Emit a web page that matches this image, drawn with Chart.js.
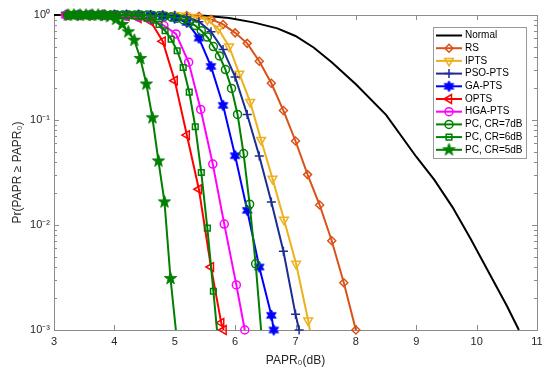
<!DOCTYPE html>
<html>
<head>
<meta charset="utf-8">
<script src="https://cdn.jsdelivr.net/npm/chart.js@4.4.1/dist/chart.umd.min.js"></script>
<style>
  html, body { margin: 0; padding: 0; background: #fff; }
  canvas { display: block; }
</style>
</head>
<body>
<canvas id="chart" width="550" height="371"></canvas>
<script>
// axis ticks
const xTicks = [3, 4, 5, 6, 7, 8, 9, 10, 11];
const yTickVals = [0.001, 0.01, 0.1, 1];
const yTickText = ["10\u207B\u00B3", "10\u207B\u00B2", "10\u207B\u00B9", "10\u2070"];

// series names
const names = ["Normal", "RS", "IPTS", "PSO-PTS", "GA-PTS", "OPTS", "HGA-PTS",
  "PC, CR=7dB", "PC, CR=6dB", "PC, CR=5dB"];

// Normal (no markers)
const normalX = [3, 4, 5, 5.5, 5.9, 6.3, 6.7, 7.0, 7.3, 7.6, 8.0, 8.5, 9.0, 9.3, 9.6, 9.9, 10.2, 10.5, 10.7];
const normalY = [1, 1, 0.998, 0.986, 0.938, 0.851, 0.746, 0.631, 0.49, 0.355, 0.219, 0.112, 0.0447, 0.0269, 0.0148, 0.00741, 0.00355, 0.0017, 0.001];

// RS
const rsX = [3.2, 3.4, 3.6, 3.8, 4.0, 4.2, 4.4, 4.6, 4.8, 5.0, 5.2, 5.4, 5.6, 5.8, 6.0, 6.2, 6.4, 6.6, 6.8, 7.0, 7.2, 7.4, 7.6, 7.8, 8.0];
const rsY = [1, 1, 1, 1, 1, 1, 1, 1, 1, 0.995, 0.989, 0.973, 0.912, 0.813, 0.676, 0.537, 0.363, 0.224, 0.123, 0.0631, 0.0302, 0.0155, 0.00708, 0.00282, 0.001];

// IPTS
const iptsX = [3.2, 3.4, 3.6, 3.8, 4.0, 4.2, 4.4, 4.6, 4.8, 5.0, 5.18, 5.36, 5.54, 5.72, 5.9, 6.07, 6.25, 6.43, 6.62, 6.81, 7.01, 7.21, 7.27];
const iptsY = [1, 1, 1, 1, 1, 1, 1, 1, 0.999, 0.996, 0.982, 0.959, 0.902, 0.741, 0.501, 0.275, 0.148, 0.0646, 0.0275, 0.0112, 0.00427, 0.00123, 0.00079];

// PSO-PTS
const psoX = [3.2, 3.4, 3.6, 3.8, 4.0, 4.2, 4.4, 4.6, 4.8, 5.0, 5.2, 5.4, 5.6, 5.8, 6.0, 6.2, 6.4, 6.6, 6.8, 7.0, 7.06];
const psoY = [1, 1, 1, 1, 1, 1, 1, 1, 0.995, 0.986, 0.955, 0.863, 0.692, 0.468, 0.257, 0.113, 0.0454, 0.0166, 0.00562, 0.00141, 0.001];

// GA-PTS
const gaX = [3.2, 3.4, 3.6, 3.8, 4.0, 4.2, 4.4, 4.6, 4.8, 5.0, 5.2, 5.4, 5.6, 5.8, 6.0, 6.2, 6.4, 6.6, 6.64];
const gaY = [1, 1, 1, 1, 1, 1, 1, 0.993, 0.977, 0.933, 0.851, 0.603, 0.324, 0.138, 0.0457, 0.0138, 0.00398, 0.00138, 0.001];

// OPTS
const optsX = [3.2, 3.4, 3.6, 3.8, 4.0, 4.2, 4.4, 4.6, 4.8, 5.0, 5.2, 5.4, 5.6, 5.77, 5.81];
const optsY = [1, 1, 1, 1, 0.993, 0.977, 0.933, 0.871, 0.562, 0.237, 0.0719, 0.0219, 0.00398, 0.00117, 0.001];

// HGA-PTS
const hgaX = [3.2, 3.4, 3.6, 3.8, 4.0, 4.2, 4.4, 4.6, 4.82, 5.02, 5.23, 5.43, 5.63, 5.82, 6.02, 6.16];
const hgaY = [1, 1, 1, 1, 0.989, 0.977, 0.955, 0.902, 0.794, 0.661, 0.355, 0.126, 0.038, 0.0102, 0.00269, 0.001];

// PC, CR=7dB
const pc7X = [3.24, 3.34, 3.44, 3.54, 3.64, 3.74, 3.84, 3.94, 4.04, 4.14, 4.24, 4.34, 4.44, 4.54, 4.64, 4.74, 4.84, 4.94, 5.04, 5.14, 5.24, 5.34, 5.44, 5.54, 5.64, 5.74, 5.84, 5.94, 6.04, 6.14, 6.24, 6.34, 6.44];
const pc7Y = [1, 1, 1, 1, 1, 1, 1, 1, 1, 1, 1, 1, 1, 1, 0.989, 0.982, 0.973, 0.959, 0.933, 0.902, 0.851, 0.794, 0.708, 0.617, 0.501, 0.407, 0.302, 0.2, 0.113, 0.0479, 0.0158, 0.00427, 0.00085];

// PC, CR=6dB
const pc6X = [3.24, 3.34, 3.44, 3.54, 3.64, 3.74, 3.84, 3.94, 4.04, 4.14, 4.24, 4.34, 4.44, 4.54, 4.64, 4.74, 4.84, 4.94, 5.04, 5.14, 5.24, 5.34, 5.44, 5.54, 5.64, 5.74];
const pc6Y = [1, 1, 1, 1, 1, 1, 1, 1, 1, 1, 0.991, 0.982, 0.966, 0.933, 0.891, 0.813, 0.708, 0.589, 0.457, 0.316, 0.184, 0.0863, 0.0316, 0.00933, 0.00234, 0.000562];

// PC, CR=5dB
const pc5X = [3.23, 3.33, 3.43, 3.53, 3.63, 3.73, 3.83, 3.93, 4.03, 4.13, 4.23, 4.33, 4.43, 4.53, 4.63, 4.73, 4.83, 4.93, 5.035];
const pc5Y = [1, 1, 1, 1, 1, 1, 0.989, 0.966, 0.912, 0.813, 0.692, 0.575, 0.385, 0.22, 0.105, 0.0407, 0.0166, 0.00309, 0.000813];

const allX = [normalX, rsX, iptsX, psoX, gaX, optsX, hgaX, pc7X, pc6X, pc5X];
const allY = [normalY, rsY, iptsY, psoY, gaY, optsY, hgaY, pc7Y, pc6Y, pc5Y];

// filled star markers (pentagram / hexagram)
function starMarker(n, color, outerR, innerR) {
  const size = Math.ceil(outerR * 2) + 2;
  const c = document.createElement("canvas");
  c.width = size; c.height = size;
  const g = c.getContext("2d");
  g.translate(size / 2, size / 2);
  g.beginPath();
  for (let i = 0; i < 2 * n; i++) {
    const r = i % 2 ? innerR : outerR;
    const a = -Math.PI / 2 + i * Math.PI / n;
    g.lineTo(r * Math.cos(a), r * Math.sin(a));
  }
  g.closePath();
  g.fillStyle = color;
  g.fill();
  g.strokeStyle = color;
  g.lineWidth = 1;
  g.stroke();
  return c;
}

const green = "#008000";
const styles = [
  { color: "#000000", point: false },
  { color: "#D95319", point: "rectRot", radius: 4 },
  { color: "#EDB120", point: "triangle", radius: 5, rotation: 180, open: true },
  { color: "#1C2D93", point: "cross", radius: 4.5 },
  { color: "#0000FF", point: starMarker(6, "#0000FF", 5.5, 3), radius: 5 },
  { color: "#FF0000", point: "triangle", radius: 5, rotation: 270 },
  { color: "#FF00FF", point: "circle", radius: 4 },
  { color: green, point: "circle", radius: 4, open: true },
  { color: green, point: "rect", radius: 4, open: true },
  { color: green, point: starMarker(5, green, 6.5, 2.6), radius: 6, open: true }
];

const datasets = names.map((name, i) => {
  const s = styles[i];
  return {
    label: name,
    data: allX[i].map((x, j) => ({ x: x, y: allY[i][j] })),
    borderColor: s.color,
    backgroundColor: "rgba(0,0,0,0)",
    borderWidth: 2,
    pointStyle: s.point,
    pointRadius: s.point ? s.radius : 0,
    pointRotation: s.rotation || 0,
    pointBorderColor: s.color,
    pointBackgroundColor: "rgba(0,0,0,0)",
    pointBorderWidth: 1.5,
    tension: 0,
    order: names.length - i,
    clip: s.open ? { left: 10, top: 10, right: 10, bottom: 0 } : false
  };
});

// box + inward ticks like the original axes
const frame = {
  id: "frame",
  beforeDatasetsDraw(chart) {
    const { ctx, chartArea: a, scales } = chart;
    ctx.save();
    ctx.strokeStyle = "#8c8c8c";
    ctx.lineWidth = 1;
    ctx.strokeRect(a.left + 0.5, a.top + 0.5, a.right - a.left, a.bottom - a.top);
    ctx.beginPath();
    xTicks.forEach(v => {
      const px = Math.round(scales.x.getPixelForValue(v)) + 0.5;
      ctx.moveTo(px, a.bottom); ctx.lineTo(px, a.bottom - 5);
      ctx.moveTo(px, a.top); ctx.lineTo(px, a.top + 5);
    });
    yTickVals.forEach(v => {
      const py = Math.round(scales.y.getPixelForValue(v)) + 0.5;
      ctx.moveTo(a.left, py); ctx.lineTo(a.left + 5, py);
      ctx.moveTo(a.right, py); ctx.lineTo(a.right - 5, py);
    });
    yTickVals.slice(0, -1).forEach(d => {
      for (let k = 2; k <= 9; k++) {
        const py = Math.round(scales.y.getPixelForValue(k * d)) + 0.5;
        ctx.moveTo(a.left, py); ctx.lineTo(a.left + 3, py);
        ctx.moveTo(a.right, py); ctx.lineTo(a.right - 3, py);
      }
    });
    ctx.stroke();
    ctx.restore();
  }
};

// legend box in the upper right, line + marker samples
const legendBox = {
  id: "legendBox",
  afterDatasetsDraw(chart) {
    const ctx = chart.ctx;
    const x0 = 433, y0 = 27, w = 93, h = 131, rowH = 12.7;
    ctx.save();
    ctx.fillStyle = "#fff";
    ctx.fillRect(x0, y0, w, h);
    ctx.strokeStyle = "#9a9a9a";
    ctx.lineWidth = 1;
    ctx.strokeRect(x0 + 0.5, y0 + 0.5, w, h);
    chart.data.datasets.forEach((ds, i) => {
      const y = y0 + 8.5 + i * rowH;
      ctx.strokeStyle = ds.borderColor;
      ctx.lineWidth = 2;
      ctx.beginPath();
      ctx.moveTo(x0 + 3, y);
      ctx.lineTo(x0 + 29, y);
      ctx.stroke();
      if (ds.pointRadius > 0 && Chart.helpers && Chart.helpers.drawPoint) {
        ctx.lineWidth = ds.pointBorderWidth;
        ctx.fillStyle = "rgba(0,0,0,0)";
        Chart.helpers.drawPoint(ctx, {
          pointStyle: ds.pointStyle,
          rotation: ds.pointRotation,
          radius: ds.pointRadius,
          borderWidth: ds.pointBorderWidth
        }, x0 + 16, y);
      }
      ctx.fillStyle = "#000";
      ctx.font = '10px "Liberation Sans", Arial, sans-serif';
      ctx.textBaseline = "middle";
      ctx.fillText(ds.label, x0 + 32, y);
    });
    ctx.restore();
  }
};

Chart.defaults.font.family = '"Liberation Sans", Arial, sans-serif';
Chart.defaults.color = "#262626";

new Chart(document.getElementById("chart"), {
  type: "line",
  data: { datasets: datasets },
  options: {
    responsive: false,
    animation: false,
    devicePixelRatio: 1,
    layout: { padding: { left: 6, right: 13, top: 15, bottom: 0 } },
    plugins: { legend: { display: false }, tooltip: { enabled: false } },
    scales: {
      x: {
        type: "linear",
        min: 3,
        max: 11,
        grid: { display: false, drawTicks: false },
        border: { display: false },
        ticks: { stepSize: 1, padding: 5, font: { size: 11 }, maxRotation: 0 },
        afterBuildTicks: s => { s.ticks = xTicks.map(v => ({ value: v })); },
        afterFit: s => { s.height = 41; },
        title: { display: true, text: "PAPR\u2080(dB)", font: { size: 12 }, padding: { top: 0, bottom: 3 } }
      },
      y: {
        type: "logarithmic",
        min: 0.001,
        max: 1,
        grid: { display: false, drawTicks: false },
        border: { display: false },
        ticks: {
          padding: 4,
          font: { size: 11 },
          callback: (v, i) => yTickText[i]
        },
        afterBuildTicks: s => { s.ticks = yTickVals.map(v => ({ value: v })); },
        afterFit: s => { s.width = 48; },
        title: { display: true, text: "Pr(PAPR \u2265 PAPR\u2080)", font: { size: 12 }, padding: { top: 4, bottom: 0 } }
      }
    }
  },
  plugins: [frame, legendBox]
});
</script>
</body>
</html>
